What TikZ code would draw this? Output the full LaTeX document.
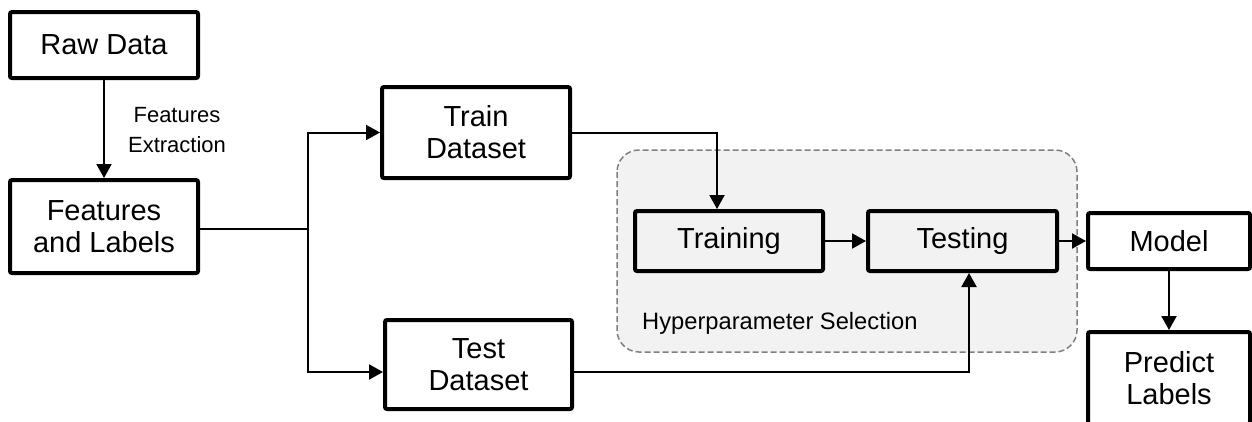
\documentclass[tikz,border=0pt]{standalone}
\usepackage{fontspec}
\setmainfont{Liberation Sans}
\usetikzlibrary{arrows.meta,positioning,calc}
\begin{document}
\begin{tikzpicture}[x=1pt,y=-1pt,
  box/.style={draw=black,line width=4pt,rounded corners=2pt,fill=white,align=center,
    inner sep=0pt,font=\fontsize{29}{32}\selectfont},
  grbox/.style={box,fill=black!5},
  conn/.style={line width=2pt},
  arr/.style={conn,-{Triangle[length=14pt,width=15pt]}},
  small/.style={font=\fontsize{22}{30}\selectfont,align=center,inner sep=0pt},
  grp/.style={draw=black!50,line width=1.5pt,dash pattern=on 6pt off 3pt,fill=black!5,rounded corners=22pt}]
\useasboundingbox (0,0) rectangle (1252,421);
% group
\draw[grp] (617,150) rectangle (1077,352);
\node[font=\fontsize{23.7}{26}\selectfont,anchor=west,inner sep=0pt] (hyp) at (642,323) {Hyperparameter Selection};
% boxes
\node[box,minimum width=188pt,minimum height=66pt] (raw) at (104,45) {Raw Data};
\node[box,minimum width=188pt,minimum height=93pt] (feat) at (104,226.5) {Features\\and Labels};
\node[box,minimum width=188pt,minimum height=91pt] (train) at (476,132.5) {Train\\Dataset};
\node[box,minimum width=187pt,minimum height=89pt] (test) at (478.5,364.5) {Test\\Dataset};
\node[grbox,minimum width=188pt,minimum height=60pt] (training) at (729,241) {Training};
\node[grbox,minimum width=189pt,minimum height=60pt] (testing) at (962.5,241) {Testing};
\node[box,minimum width=162pt,minimum height=56pt] (model) at (1169,241) {Model};
\node[box,minimum width=162pt,minimum height=92pt] (predict) at (1169,378) {Predict\\Labels};
% label
\node[small] (fe) at (177,130) {Features\\Extraction};
% connectors
\draw[arr] (raw.south) -- (feat.north);
\coordinate (b) at (308,229);
\draw[conn] (feat.east |- b) -- (b);
\draw[arr] (b) |- (train.west);
\draw[arr] (b) |- ([yshift=-7.5pt]test.west);
\draw[arr] (train.east) -| ([xshift=-12pt]training.north);
\draw[arr] (training.east) -- (testing.west);
\draw[arr] (testing.east) -- (model.west);
\draw[arr] (model.south) -- (predict.north);
\draw[arr] ([yshift=-7.5pt]test.east) -| ([xshift=6.5pt]testing.south);
\end{tikzpicture}
\end{document}
